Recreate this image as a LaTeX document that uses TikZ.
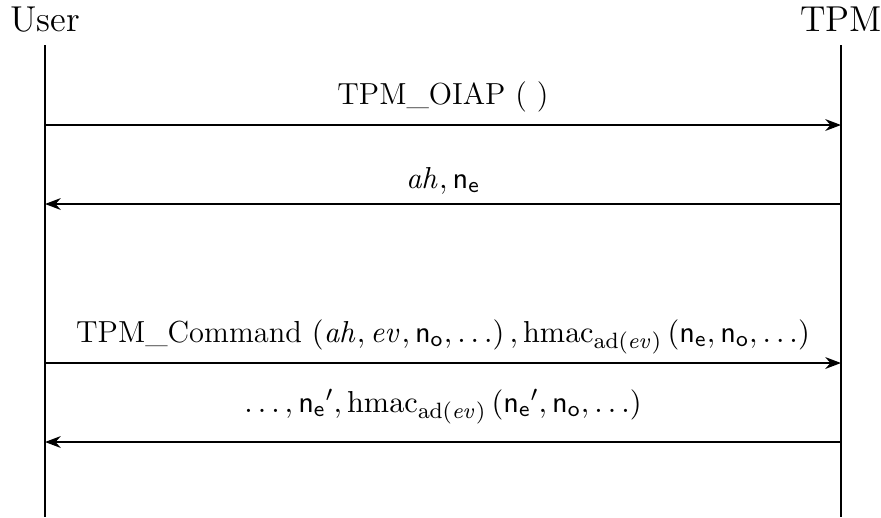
\documentclass[tikz,border=0pt]{standalone}
\usepackage{tikz}
\usepackage{amsmath}
\usetikzlibrary{positioning}
\usetikzlibrary {arrows.meta}
\tikzset{party/.style={rectangle,draw=none,inner sep=0pt,anchor=base,font=\fontsize{13}{15}\selectfont}}
\tikzset{lifeline/.style={line width=0.7pt}}
\tikzset{message/.style={line width=0.7pt,-{Stealth[length=2mm]}}}
\tikzset{msglabel/.style={rectangle,draw=none,inner sep=0pt,anchor=base,font=\fontsize{11}{13}\selectfont}}
\newcommand{\nnc}[1]{\mathsf{n}_{\mathsf{#1}}}
\newcommand{\hmacad}{\mathrm{hmac}_{\mathrm{ad}(\mathit{ev})}}

\begin{document}
\begin{tikzpicture}[x=0.0127cm,y=-0.0127cm]
        \useasboundingbox (0,0) rectangle (881,517);

        \node[party] (user) at (45,31) {User};
        \node[party] (tpm) at (841,31) {TPM};

        \coordinate (userTop) at (45,45);
        \coordinate (userBot) at (45,517);
        \coordinate (tpmTop) at (841,45);
        \coordinate (tpmBot) at (841,517);
        \draw[lifeline] (userTop) -- (userBot);
        \draw[lifeline] (tpmTop) -- (tpmBot);

        % first exchange
        \coordinate (userA) at (45,125);
        \coordinate (tpmA) at (841,125);
        \draw[message] (userA) -- (tpmA);
        \node[msglabel] (oiap) at (443,104) {TPM\_OIAP ( )};

        \coordinate (tpmB) at (841,204);
        \coordinate (userB) at (45,204);
        \draw[message] (tpmB) -- (userB);
        \node[msglabel] (handle) at (443,188) {$\mathit{ah}, \nnc{e}$};

        % second exchange
        \coordinate (userC) at (45,363);
        \coordinate (tpmC) at (841,363);
        \draw[message] (userC) -- (tpmC);
        \node[msglabel] (command) at (443,342)
            {TPM\_Command $(\mathit{ah}, \mathit{ev}, \nnc{o}, \ldots)\, , \hmacad\,(\nnc{e}, \nnc{o}, \ldots)$};

        \coordinate (tpmD) at (841,442);
        \coordinate (userD) at (45,442);
        \draw[message] (tpmD) -- (userD);
        \node[msglabel] (reply) at (443,412)
            {$\ldots, {\nnc{e}}', \hmacad\,({\nnc{e}}', \nnc{o}, \ldots)$};
\end{tikzpicture}
\end{document}
